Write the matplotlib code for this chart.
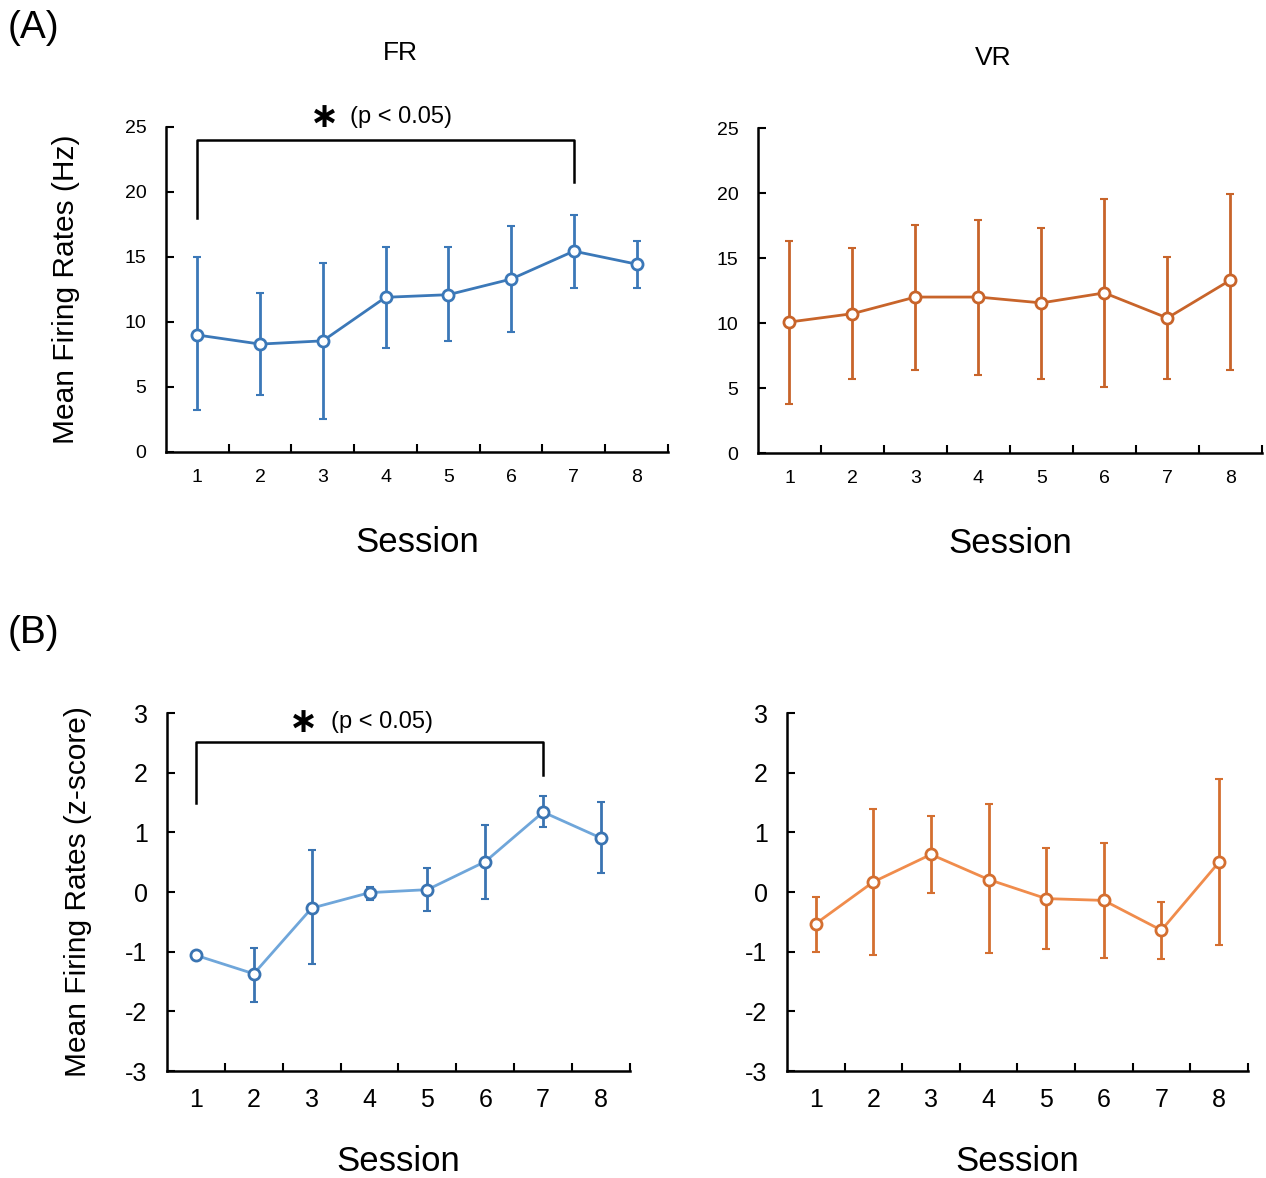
import numpy as np
import matplotlib.pyplot as plt

plt.rcParams['font.family'] = ['Liberation Sans', 'DejaVu Sans']
plt.rcParams['axes.unicode_minus'] = False

sessions = [1, 2, 3, 4, 5, 6, 7, 8]

# (A) mean firing rates in Hz, with lower / upper error bar ends
fr_hz = [9.0, 8.3, 8.55, 11.9, 12.1, 13.3, 15.45, 14.45]
fr_hz_lo = [3.2, 4.4, 2.5, 8.0, 8.5, 9.25, 12.6, 12.6]
fr_hz_hi = [15.0, 12.2, 14.55, 15.75, 15.75, 17.35, 18.2, 16.25]

vr_hz = [10.08, 10.72, 12.0, 12.0, 11.55, 12.32, 10.39, 13.3]
vr_hz_lo = [3.78, 5.71, 6.4, 6.02, 5.71, 5.07, 5.71, 6.4]
vr_hz_hi = [16.28, 15.74, 17.54, 17.93, 17.28, 19.55, 15.1, 19.9]

# (B) z-scored firing rates
fr_z = [-1.06, -1.37, -0.27, -0.01, 0.04, 0.51, 1.34, 0.905]
fr_z_lo = [-1.06, -1.84, -1.21, -0.13, -0.32, -0.11, 1.09, 0.32]
fr_z_hi = [-1.06, -0.93, 0.70, 0.08, 0.40, 1.13, 1.61, 1.51]

vr_z = [-0.53, 0.17, 0.63, 0.21, -0.11, -0.14, -0.64, 0.50]
vr_z_lo = [-1.0, -1.06, -0.02, -1.02, -0.96, -1.10, -1.12, -0.88]
vr_z_hi = [-0.08, 1.385, 1.27, 1.47, 0.74, 0.82, -0.17, 1.90]


def panel(ax, y, lo, hi, line_c, err_c, ylim, yticks, fs, xpad):
    y = np.array(y)
    yerr = [y - np.array(lo), np.array(hi) - y]
    ax.errorbar(sessions, y, yerr=yerr, fmt='none', ecolor=err_c,
                elinewidth=2, capsize=3, capthick=1.5, zorder=2)
    ax.plot(sessions, y, '-', color=line_c, lw=2, zorder=3)
    ax.plot(sessions, y, 'o', ms=8, mfc='white', mec=err_c, mew=2, zorder=4)
    ax.set_xlim(0.5, 8.5)
    ax.set_ylim(ylim)
    ax.set_yticks(yticks)
    ax.set_xticks(np.arange(1.5, 9, 1))
    ax.set_xticklabels([])
    ax.set_xticks(sessions, minor=True)
    ax.set_xticklabels([str(s) for s in sessions], minor=True, fontsize=fs)
    ax.tick_params(axis='x', which='major', direction='in', length=6, width=1.5)
    ax.tick_params(axis='x', which='minor', length=0, pad=12)
    ax.tick_params(axis='y', direction='in', length=6, width=1.5, labelsize=fs, pad=14)
    for side in ['top', 'right']:
        ax.spines[side].set_visible(False)
    for side in ['left', 'bottom']:
        ax.spines[side].set_linewidth(1.8)
    ax.set_xlabel('Session', fontsize=25, labelpad=xpad)


def bracket(ax, y_bar, y_left, y_right, star_x, text_x, text_y, fs):
    ax.plot([1, 1, 7, 7], [y_left, y_bar, y_bar, y_right], color='black', lw=1.8, clip_on=False)
    ax.text(star_x, text_y, '\u2217', fontsize=fs + 8, fontweight='bold', ha='center', va='center',
            family='DejaVu Sans')
    ax.text(text_x, text_y, '(p < 0.05)', fontsize=fs, ha='left', va='center')


fig = plt.figure(figsize=(12.66, 11.78), dpi=100)

ax1 = fig.add_axes([0.1311, 0.6163, 0.3965, 0.2759])
ax2 = fig.add_axes([0.5987, 0.6154, 0.3980, 0.2759])
ax3 = fig.add_axes([0.1319, 0.0908, 0.3657, 0.3039])
ax4 = fig.add_axes([0.6216, 0.0908, 0.3640, 0.3039])

blue = '#3B78B8'
orange = '#C8642A'
panel(ax1, fr_hz, fr_hz_lo, fr_hz_hi, blue, blue, (0, 25), [0, 5, 10, 15, 20, 25], 14, 29)
panel(ax2, vr_hz, vr_hz_lo, vr_hz_hi, orange, orange, (0, 25), [0, 5, 10, 15, 20, 25], 14, 29)
panel(ax3, fr_z, fr_z_lo, fr_z_hi, '#6FA6DA', '#3A74B2', (-3, 3), [-3, -2, -1, 0, 1, 2, 3], 18, 24)
panel(ax4, vr_z, vr_z_lo, vr_z_hi, '#F08C4C', '#D46F30', (-3, 3), [-3, -2, -1, 0, 1, 2, 3], 18, 24)

bracket(ax1, 24.0, 18.0, 20.75, 3.02, 3.43, 25.8, 17)
bracket(ax3, 2.51, 1.49, 1.96, 2.86, 3.33, 2.85, 17)

ax1.set_ylabel('Mean Firing Rates (Hz)', fontsize=21.5, labelpad=32)
ax3.set_ylabel('Mean Firing Rates (z-score)', fontsize=21.5, labelpad=24)

fig.text(400 / 1266, 1 - 53 / 1178, 'FR', fontsize=19, ha='center', va='center')
fig.text(993 / 1266, 1 - 58 / 1178, 'VR', fontsize=19, ha='center', va='center')
fig.text(8 / 1266, 1 - 28 / 1178, '(A)', fontsize=28, ha='left', va='center')
fig.text(8 / 1266, 1 - 633 / 1178, '(B)', fontsize=28, ha='left', va='center')

plt.savefig('out.png', dpi=100)
